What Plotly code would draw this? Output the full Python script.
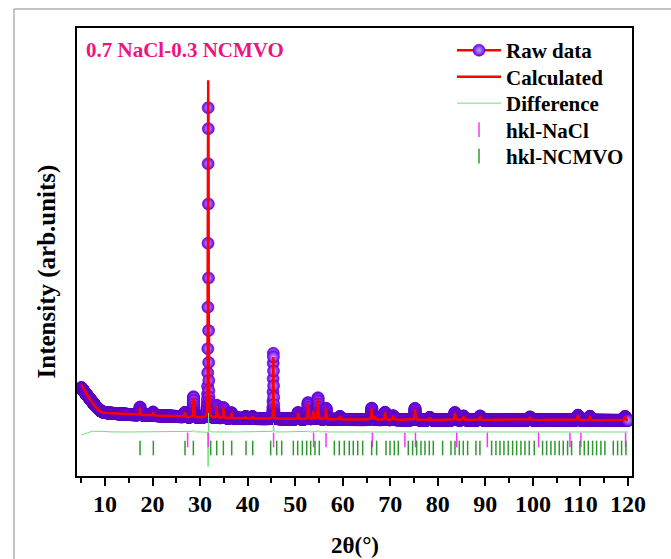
import numpy as np
import plotly.graph_objects as go

# ---------------- data ----------------
scan_start, scan_end, scan_step = 5.0, 120.0, 0.02

# background knots (2theta, intensity)
bg_x = [5.0, 5.5, 6.0, 6.5, 7.0, 7.5, 8.0, 8.5, 9.0, 9.5, 10.0, 11.0, 12.0, 15.0, 20.0, 25.0, 30.0, 40.0, 50.0, 60.0, 80.0, 100.0, 120.0]
bg_y = [1335, 1230, 1140, 1050, 960, 870, 780, 705, 645, 600, 585, 565, 555, 525, 495, 465, 435, 405, 390, 375, 360, 360, 345]
# small background misfit of the refinement (calc - obs) at low angle
bgfit_x = [5.0, 6.0, 7.0, 8.0, 9.0, 10.0, 12.0, 120.0]
bgfit_y = [90, 30, -20, -30, -30, -10, 0, 0]

# reflections: observed position, calculated position, observed height, calculated height, FWHM
peak_pos_obs = [17.36, 20.10, 26.80, 28.60, 31.705, 33.50, 34.90, 36.60, 39.60, 41.00, 45.405, 50.60, 52.70, 53.80, 54.80, 56.50, 59.40,
                66.10, 66.80, 68.90, 70.60, 75.20, 78.30, 83.60, 85.40, 88.90, 99.40, 109.50, 112.00, 119.40]
peak_pos_calc = [17.36, 20.10, 26.80, 28.60, 31.70, 33.50, 34.90, 36.60, 39.60, 41.00, 45.40, 50.60, 52.70, 53.80, 54.80, 56.50, 59.40,
                 66.10, 66.80, 68.90, 70.60, 75.20, 78.30, 83.60, 85.40, 88.90, 99.40, 109.50, 112.00, 119.40]
peak_obs  = [240, 105, 135, 615, 9380, 375, 315, 165, 60, 60, 1980, 195, 495, 240, 645, 330, 90,
             345, 90, 225, 120, 345, 75, 225, 120, 120, 90, 150, 120, 120]
peak_calc = [225, 100, 130, 570, 10125, 360, 300, 160, 60, 60, 1850, 190, 480, 235, 620, 320, 90,
             330, 90, 215, 115, 330, 75, 215, 115, 115, 90, 145, 115, 115]
peak_fwhm = [0.16, 0.16, 0.16, 0.16, 0.10, 0.16, 0.16, 0.16, 0.18, 0.18, 0.11, 0.18, 0.18, 0.18, 0.18, 0.18, 0.18,
             0.2, 0.2, 0.2, 0.2, 0.2, 0.22, 0.22, 0.22, 0.22, 0.24, 0.26, 0.26, 0.28]
calc_fwhm_scale = 0.93

# Bragg positions
hkl_nacl = [27.37, 31.70, 45.45, 53.87, 56.48, 66.23, 73.07, 75.30, 83.98, 90.41, 101.19, 107.8, 110.1, 119.5]
hkl_ncmvo = [17.36, 20.16, 26.82, 28.58, 32.22, 33.49, 34.89, 36.64, 39.65, 41.06, 44.84, 46.11, 47.16,
             49.61, 50.52, 51.50, 52.42, 53.26, 54.16, 55.07, 58.23, 59.28, 60.33, 61.38, 62.22, 63.15,
             64.19, 66.08, 67.13, 69.10, 69.94, 70.85, 71.69, 73.79, 74.70, 75.55, 76.46, 77.30, 78.21, 79.05,
             81.01, 82.77, 83.61, 84.52, 85.36, 86.27, 88.02, 88.86, 91.32, 92.23, 93.07, 93.91, 94.82, 95.74,
             96.58, 97.49, 98.33, 99.24, 100.29, 102.04, 102.89, 103.80, 104.64, 105.55, 106.39, 107.30, 108.14,
             109.90, 110.81, 111.65, 112.56, 113.40, 114.31, 115.15, 116.91, 117.82, 118.66, 119.57]

diff_offset = 0
nacl_row = -240
ncmvo_row = -480

x_ticks = [10, 20, 30, 40, 50, 60, 70, 80, 90, 100, 110, 120]
series_names = ["Raw data", "Calculated", "Difference", "hkl-NaCl", "hkl-NCMVO"]

# ---------------- build pattern ----------------
tt = np.round(np.arange(scan_start, scan_end + scan_step / 2, scan_step), 4)


def pv(x, x0, h, w, eta=0.7):
    g = np.exp(-4 * np.log(2) * ((x - x0) / w) ** 2)
    l = 1.0 / (1.0 + 4 * ((x - x0) / w) ** 2)
    return h * (eta * l + (1 - eta) * g)


bg = np.interp(tt, bg_x, bg_y)
obs = bg.copy()
calc = bg + np.interp(tt, bgfit_x, bgfit_y)
for po, pc, ho, hc, w in zip(peak_pos_obs, peak_pos_calc, peak_obs, peak_calc, peak_fwhm):
    obs += pv(tt, po, ho, w)
    calc += pv(tt, pc, hc, w * calc_fwhm_scale)
diff = obs - calc + diff_offset

serif = "Liberation Serif"
legend_ids = ["legend", "legend2", "legend3", "legend4", "legend5"]

fig = go.Figure()
fig.add_trace(go.Scatter(
    x=tt, y=obs, mode="lines+markers", name=series_names[0], legend=legend_ids[0],
    line=dict(color="#FF0000", width=2.5),
    marker=dict(size=12, color="#7000EE",
                gradient=dict(type="radial", color="#C8A0FF"),
                line=dict(width=0.6, color="#5A00BE")),
))
fig.add_trace(go.Scatter(
    x=tt, y=calc, mode="lines", name=series_names[1], legend=legend_ids[1],
    line=dict(color="#FF0000", width=2.5),
))
fig.add_trace(go.Scatter(
    x=tt, y=diff, mode="lines", name=series_names[2], legend=legend_ids[2],
    line=dict(color="#70E070", width=1),
))
fig.add_trace(go.Scatter(
    x=hkl_nacl, y=[nacl_row] * len(hkl_nacl), mode="markers", name=series_names[3], legend=legend_ids[3],
    marker=dict(symbol="line-ns", size=10.5, line=dict(color="#FF33FF", width=1.5)),
))
fig.add_trace(go.Scatter(
    x=hkl_ncmvo, y=[ncmvo_row] * len(hkl_ncmvo), mode="markers", name=series_names[4], legend=legend_ids[4],
    marker=dict(symbol="line-ns", size=10.5, line=dict(color="#2E9A2E", width=1.5)),
))

W, H = 671, 559
L, R, T, B = 77, 39, 28, 83
pw, ph = W - L - R, H - T - B


def px(x):
    return (x - L) / pw


def py(y):
    return 1 - (y - T) / ph


legend_font = dict(family=serif, size=21, color="black", weight="bold")
row_y = [50.5, 77, 103.5, 130, 156.5]
legend_cfg = {}
for lid, ry in zip(legend_ids, row_y):
    legend_cfg[lid] = dict(x=px(452), y=py(ry), xanchor="left", yanchor="middle",
                           font=legend_font, bgcolor="rgba(0,0,0,0)", itemwidth=44,
                           borderwidth=0)

fig.update_layout(
    width=W, height=H,
    margin=dict(l=L, r=R, t=T, b=B),
    paper_bgcolor="white", plot_bgcolor="white",
    showlegend=True,
    **legend_cfg,
    xaxis=dict(range=[4.1, 120.85], tickvals=x_ticks, ticks="outside", ticklen=8, tickwidth=2,
               tickcolor="black", showline=True, linewidth=2, linecolor="black", mirror=True,
               showgrid=False, zeroline=False, ticklabelstandoff=-3,
               minor=dict(dtick=5, tick0=0, ticks="outside", ticklen=5, tickwidth=1.5, tickcolor="black"),
               tickfont=dict(family=serif, size=24, color="black", weight="bold")),
    yaxis=dict(range=[-1320, 12120], showticklabels=False, ticks="", showline=True, linewidth=2,
               linecolor="black", mirror=True, showgrid=False, zeroline=False),
    annotations=[
        dict(text="0.7 NaCl-0.3 NCMVO", xref="paper", yref="paper", x=px(84), y=py(50),
             xanchor="left", yanchor="middle", showarrow=False,
             font=dict(family=serif, size=21, color="#EE1480", weight="bold")),
        dict(text="Intensity (arb.units)", xref="paper", yref="paper", x=px(46), y=py(271.5),
             xanchor="center", yanchor="middle", showarrow=False, textangle=-90,
             font=dict(family=serif, size=25, color="black", weight="bold")),
        dict(text="2θ(°)", xref="paper", yref="paper", x=px(355), y=py(545),
             xanchor="center", yanchor="middle", showarrow=False,
             font=dict(family=serif, size=23, color="black", weight="bold")),
    ],
    shapes=[dict(type="rect", xref="paper", yref="paper", x0=px(14), y0=py(580), x1=px(690), y1=py(9),
                 line=dict(color="#888888", width=1), fillcolor="rgba(0,0,0,0)", layer="below")],
)

fig.write_html("out.html")
